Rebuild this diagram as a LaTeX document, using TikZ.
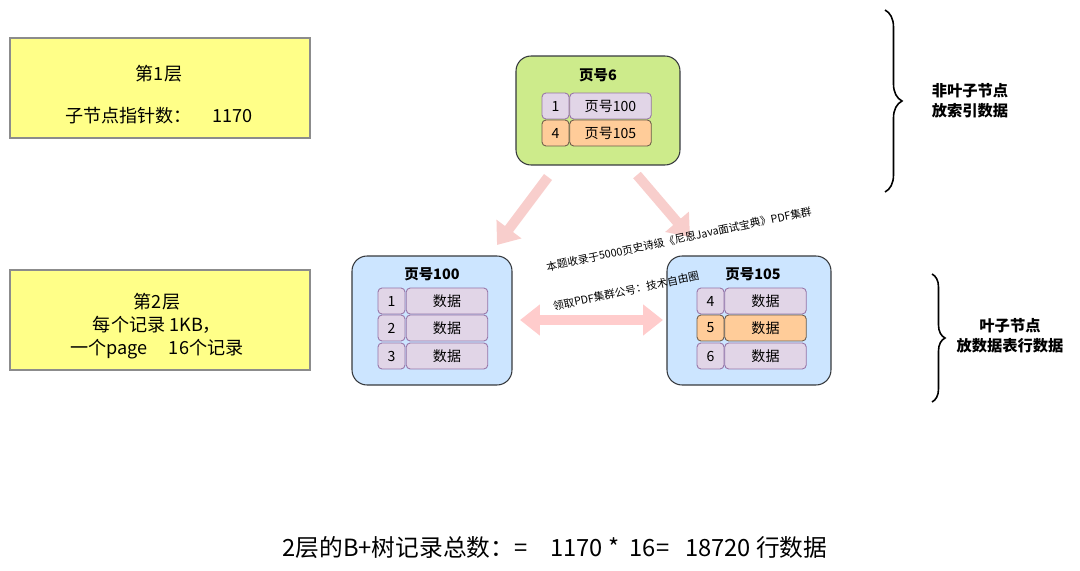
\documentclass[tikz,border=0pt]{standalone}
\usepackage{fontspec}
\setmainfont{Noto Sans CJK SC}
\usepackage{xcolor}
\usepackage{tikz}
\usetikzlibrary{arrows.meta, positioning, decorations.pathreplacing}

\definecolor{layerfill}{HTML}{FFFF88}
\definecolor{layerline}{HTML}{8C8C8C}
\definecolor{rootfill}{HTML}{CDEB8B}
\definecolor{leaffill}{HTML}{CCE5FF}
\definecolor{pageline}{HTML}{36393D}
\definecolor{cellfill}{HTML}{E1D5E7}
\definecolor{cellline}{HTML}{9673A6}
\definecolor{hotfill}{HTML}{FFCC99}
\definecolor{hotline}{HTML}{6B5A48}
\definecolor{linkpink}{HTML}{F8CECC}
\definecolor{linkrose}{HTML}{FFCCCC}

\tikzset{
  layerbox/.style={shape=rectangle, draw=layerline, fill=layerfill, line width=0.7pt, minimum width=6cm, minimum height=2cm},
  layertext/.style={align=center, inner sep=0pt, font=\fontsize{10.3}{13}\selectfont},
  pagebox/.style={shape=rectangle, rounded corners=0.3cm, draw=pageline, line width=0.6pt},
  pagetitle/.style={font=\bfseries\fontsize{8.2}{10}\selectfont, inner sep=0pt},
  idxcell/.style={shape=rectangle, rounded corners=0.08cm, draw=cellline, fill=cellfill, line width=0.5pt, minimum width=0.54cm, minimum height=0.52cm, inner sep=0pt, font=\fontsize{8}{10}\selectfont},
  datcell/.style={idxcell, minimum width=1.63cm},
  hotcell/.style={draw=hotline, fill=hotfill},
  bigarrow/.style={line width=0.2cm, -{Triangle[width=0.6cm, length=0.4cm]}},
  bracepath/.style={decorate, line width=0.9pt},
  notetext/.style={align=center, font=\bfseries\fontsize{8.7}{11.3}\selectfont},
  marktext/.style={rotate=12, inner sep=0pt, font=\fontsize{6.1}{7}\selectfont},
  sumtext/.style={inner sep=0pt, font=\fontsize{13.5}{16}\selectfont}
}

\begin{document}
\begin{tikzpicture}[x=0.02cm, y=-0.02cm]
			% Paths, nodes and wires:
			\useasboundingbox (0,0) rectangle (1080,571);
			\node[layerbox] (L1) at (160,88){};
			\node[layertext] (L1t) at (159,95){第1层\\[11pt]子节点指针数：\hspace{12pt}1170};
			\node[layerbox] (L2) at (160,320){};
			\node[layertext] (L2t) at (157,326){第2层\\每个记录 1KB，\\一个page\hspace{12pt}16个记录};
			\node[pagebox, fill=rootfill, minimum width=3.28cm, minimum height=2.18cm] (P6) at (598,110.5){};
			\node[pagetitle] (P6t) at (598,75){页号6};
			\node[idxcell] (P6i1) at (555.5,106){1};
			\node[datcell] (P6d1) at (610.5,106){页号100};
			\node[idxcell, hotcell] (P6i2) at (555.5,133){4};
			\node[datcell, hotcell] (P6d2) at (610.5,133){页号105};
			\node[pagebox, fill=leaffill, minimum width=3.2cm, minimum height=2.58cm] (P100) at (432,320.5){};
			\node[pagetitle] (P100t) at (432,274){页号100};
			\node[idxcell] (P100i1) at (391.5,301){1};
			\node[datcell] (P100d1) at (447,301){数据};
			\node[idxcell] (P100i2) at (391.5,328){2};
			\node[datcell] (P100d2) at (447,328){数据};
			\node[idxcell] (P100i3) at (391.5,356){3};
			\node[datcell] (P100d3) at (447,356){数据};
			\node[pagebox, fill=leaffill, minimum width=3.28cm, minimum height=2.58cm] (P105) at (749,320.5){};
			\node[pagetitle] (P105t) at (753,274){页号105};
			\node[idxcell] (P105i1) at (710.5,301){4};
			\node[datcell] (P105d1) at (765.5,301){数据};
			\node[idxcell, hotcell] (P105i2) at (710.5,328){5};
			\node[datcell, hotcell] (P105d2) at (765.5,328){数据};
			\node[idxcell] (P105i3) at (710.5,356){6};
			\node[datcell] (P105d3) at (765.5,356){数据};
			\coordinate (A1s) at (548,177);
			\coordinate (A1e) at (497,245);
			\coordinate (A2s) at (637,175);
			\coordinate (A2e) at (690,237);
			\coordinate (A3s) at (520,320);
			\coordinate (A3e) at (663,320);
			\draw[bigarrow, draw=linkpink, fill=linkpink] (A1s) -- (A1e);
			\draw[bigarrow, draw=linkpink, fill=linkpink] (A2s) -- (A2e);
			\draw[bigarrow, {Triangle[width=0.6cm, length=0.4cm]}-{Triangle[width=0.6cm, length=0.4cm]}, draw=linkrose, fill=linkrose] (A3s) -- (A3e);
			\node[marktext] (W1) at (679,239){本题收录于5000页史诗级《尼恩Java面试宝典》PDF集群};
			\node[marktext] (W2) at (626,291){领取PDF集群公号：技术自由圈};
			\coordinate (B1t) at (885,10);
			\coordinate (B1b) at (885,192);
			\draw[bracepath, decoration={brace, amplitude=0.34cm}] (B1t) -- (B1b);
			\coordinate (B2t) at (932,274);
			\coordinate (B2b) at (932,402);
			\draw[bracepath, decoration={brace, amplitude=0.26cm}] (B2t) -- (B2b);
			\node[notetext] (N1) at (970,101){非叶子节点\\放索引数据};
			\node[notetext] (N2) at (1010,336){叶子节点\\放数据表行数据};
			\node[sumtext] (S) at (555,548){2层的B+树记录总数：=\hspace{13pt}1170 *\hspace{6pt}16=\hspace{9pt}18720 行数据};
		\end{tikzpicture}
\end{document}
